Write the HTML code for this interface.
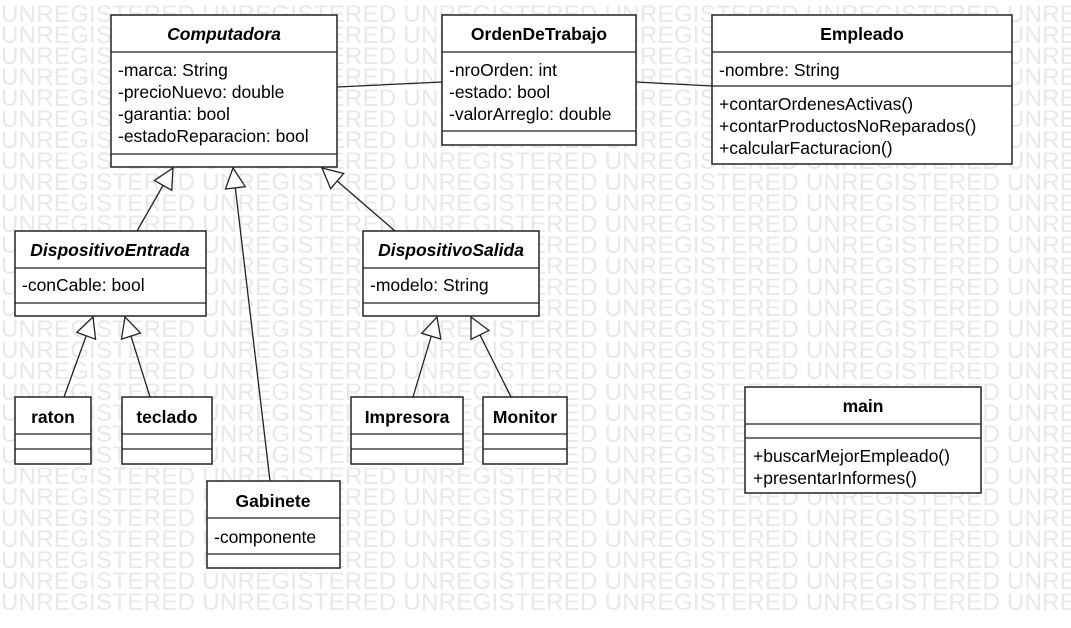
<!DOCTYPE html><html><head><meta charset="utf-8"><style>
body{margin:0;background:#fff;width:1071px;height:628px;overflow:hidden}
svg{display:block}
text{font-family:"Liberation Sans",sans-serif;font-size:17.5px;fill:#000}
text.wm{font-size:24px;fill:#e8e8e8}
.b{font-weight:bold}.i{font-style:italic;font-weight:bold}
rect.c{fill:#fff;stroke:#222;stroke-width:1.5}
line{stroke:#222;stroke-width:1.3}
</style></head><body>
<svg width="1071" height="628" xmlns="http://www.w3.org/2000/svg">
<defs><marker id="t" markerWidth="24" markerHeight="24" refX="21" refY="11" orient="auto" markerUnits="userSpaceOnUse"><path d="M1,1 L21,11 L1,21 Z" fill="#fff" stroke="#222" stroke-width="1.3"/></marker></defs>
<g>
<text class="wm" x="1" y="22" textLength="1200">UNREGISTERED UNREGISTERED UNREGISTERED UNREGISTERED UNREGISTERED UNREGISTERED </text>
<text class="wm" x="1" y="43" textLength="1200">UNREGISTERED UNREGISTERED UNREGISTERED UNREGISTERED UNREGISTERED UNREGISTERED </text>
<text class="wm" x="1" y="64" textLength="1200">UNREGISTERED UNREGISTERED UNREGISTERED UNREGISTERED UNREGISTERED UNREGISTERED </text>
<text class="wm" x="1" y="85" textLength="1200">UNREGISTERED UNREGISTERED UNREGISTERED UNREGISTERED UNREGISTERED UNREGISTERED </text>
<text class="wm" x="1" y="106" textLength="1200">UNREGISTERED UNREGISTERED UNREGISTERED UNREGISTERED UNREGISTERED UNREGISTERED </text>
<text class="wm" x="1" y="127" textLength="1200">UNREGISTERED UNREGISTERED UNREGISTERED UNREGISTERED UNREGISTERED UNREGISTERED </text>
<text class="wm" x="1" y="148" textLength="1200">UNREGISTERED UNREGISTERED UNREGISTERED UNREGISTERED UNREGISTERED UNREGISTERED </text>
<text class="wm" x="1" y="169" textLength="1200">UNREGISTERED UNREGISTERED UNREGISTERED UNREGISTERED UNREGISTERED UNREGISTERED </text>
<text class="wm" x="1" y="190" textLength="1200">UNREGISTERED UNREGISTERED UNREGISTERED UNREGISTERED UNREGISTERED UNREGISTERED </text>
<text class="wm" x="1" y="211" textLength="1200">UNREGISTERED UNREGISTERED UNREGISTERED UNREGISTERED UNREGISTERED UNREGISTERED </text>
<text class="wm" x="1" y="232" textLength="1200">UNREGISTERED UNREGISTERED UNREGISTERED UNREGISTERED UNREGISTERED UNREGISTERED </text>
<text class="wm" x="1" y="253" textLength="1200">UNREGISTERED UNREGISTERED UNREGISTERED UNREGISTERED UNREGISTERED UNREGISTERED </text>
<text class="wm" x="1" y="274" textLength="1200">UNREGISTERED UNREGISTERED UNREGISTERED UNREGISTERED UNREGISTERED UNREGISTERED </text>
<text class="wm" x="1" y="295" textLength="1200">UNREGISTERED UNREGISTERED UNREGISTERED UNREGISTERED UNREGISTERED UNREGISTERED </text>
<text class="wm" x="1" y="316" textLength="1200">UNREGISTERED UNREGISTERED UNREGISTERED UNREGISTERED UNREGISTERED UNREGISTERED </text>
<text class="wm" x="1" y="337" textLength="1200">UNREGISTERED UNREGISTERED UNREGISTERED UNREGISTERED UNREGISTERED UNREGISTERED </text>
<text class="wm" x="1" y="358" textLength="1200">UNREGISTERED UNREGISTERED UNREGISTERED UNREGISTERED UNREGISTERED UNREGISTERED </text>
<text class="wm" x="1" y="379" textLength="1200">UNREGISTERED UNREGISTERED UNREGISTERED UNREGISTERED UNREGISTERED UNREGISTERED </text>
<text class="wm" x="1" y="400" textLength="1200">UNREGISTERED UNREGISTERED UNREGISTERED UNREGISTERED UNREGISTERED UNREGISTERED </text>
<text class="wm" x="1" y="421" textLength="1200">UNREGISTERED UNREGISTERED UNREGISTERED UNREGISTERED UNREGISTERED UNREGISTERED </text>
<text class="wm" x="1" y="442" textLength="1200">UNREGISTERED UNREGISTERED UNREGISTERED UNREGISTERED UNREGISTERED UNREGISTERED </text>
<text class="wm" x="1" y="463" textLength="1200">UNREGISTERED UNREGISTERED UNREGISTERED UNREGISTERED UNREGISTERED UNREGISTERED </text>
<text class="wm" x="1" y="484" textLength="1200">UNREGISTERED UNREGISTERED UNREGISTERED UNREGISTERED UNREGISTERED UNREGISTERED </text>
<text class="wm" x="1" y="505" textLength="1200">UNREGISTERED UNREGISTERED UNREGISTERED UNREGISTERED UNREGISTERED UNREGISTERED </text>
<text class="wm" x="1" y="526" textLength="1200">UNREGISTERED UNREGISTERED UNREGISTERED UNREGISTERED UNREGISTERED UNREGISTERED </text>
<text class="wm" x="1" y="547" textLength="1200">UNREGISTERED UNREGISTERED UNREGISTERED UNREGISTERED UNREGISTERED UNREGISTERED </text>
<text class="wm" x="1" y="568" textLength="1200">UNREGISTERED UNREGISTERED UNREGISTERED UNREGISTERED UNREGISTERED UNREGISTERED </text>
<text class="wm" x="1" y="589" textLength="1200">UNREGISTERED UNREGISTERED UNREGISTERED UNREGISTERED UNREGISTERED UNREGISTERED </text>
<text class="wm" x="1" y="610" textLength="1200">UNREGISTERED UNREGISTERED UNREGISTERED UNREGISTERED UNREGISTERED UNREGISTERED </text>
</g>
<line x1="337" y1="87" x2="442" y2="82"/>
<line x1="636" y1="82" x2="712" y2="86"/>
<line x1="137" y1="231" x2="173" y2="168" marker-end="url(#t)"/>
<line x1="270" y1="481" x2="233" y2="168" marker-end="url(#t)"/>
<line x1="395" y1="231" x2="322" y2="168" marker-end="url(#t)"/>
<line x1="64" y1="397" x2="93" y2="317" marker-end="url(#t)"/>
<line x1="150" y1="397" x2="125" y2="317" marker-end="url(#t)"/>
<line x1="413" y1="397" x2="437" y2="317" marker-end="url(#t)"/>
<line x1="511" y1="397" x2="471" y2="317" marker-end="url(#t)"/>
<rect class="c" x="111" y="15" width="226" height="152"/>
<line x1="111" y1="52" x2="337" y2="52"/><line x1="111" y1="154" x2="337" y2="154"/>
<text class="i" x="224" y="40" text-anchor="middle">Computadora</text>
<text x="118" y="76">-marca: String</text><text x="118" y="98">-precioNuevo: double</text>
<text x="118" y="120">-garantia: bool</text><text x="118" y="142">-estadoReparacion: bool</text>
<rect class="c" x="442" y="15" width="194" height="130"/>
<line x1="442" y1="52" x2="636" y2="52"/><line x1="442" y1="131" x2="636" y2="131"/>
<text class="b" x="539" y="40" text-anchor="middle">OrdenDeTrabajo</text>
<text x="449" y="76">-nroOrden: int</text><text x="449" y="98">-estado: bool</text><text x="449" y="120">-valorArreglo: double</text>
<rect class="c" x="712" y="15" width="300" height="149"/>
<line x1="712" y1="52" x2="1012" y2="52"/><line x1="712" y1="86" x2="1012" y2="86"/>
<text class="b" x="862" y="40" text-anchor="middle">Empleado</text>
<text x="719" y="76">-nombre: String</text>
<text x="719" y="110">+contarOrdenesActivas()</text><text x="719" y="132">+contarProductosNoReparados()</text><text x="719" y="154">+calcularFacturacion()</text>
<rect class="c" x="15" y="231" width="191" height="85"/>
<line x1="15" y1="268" x2="206" y2="268"/><line x1="15" y1="303" x2="206" y2="303"/>
<text class="i" x="110" y="256" text-anchor="middle">DispositivoEntrada</text>
<text x="22" y="291">-conCable: bool</text>
<rect class="c" x="363" y="231" width="176" height="85"/>
<line x1="363" y1="268" x2="539" y2="268"/><line x1="363" y1="303" x2="539" y2="303"/>
<text class="i" x="451" y="256" text-anchor="middle">DispositivoSalida</text>
<text x="370" y="291">-modelo: String</text>
<rect class="c" x="15" y="397" width="76" height="67"/>
<line x1="15" y1="434" x2="91" y2="434"/><line x1="15" y1="449" x2="91" y2="449"/>
<text class="b" x="53" y="423" text-anchor="middle">raton</text>
<rect class="c" x="122" y="397" width="90" height="67"/>
<line x1="122" y1="434" x2="212" y2="434"/><line x1="122" y1="449" x2="212" y2="449"/>
<text class="b" x="167" y="423" text-anchor="middle">teclado</text>
<rect class="c" x="351" y="397" width="112" height="67"/>
<line x1="351" y1="434" x2="463" y2="434"/><line x1="351" y1="449" x2="463" y2="449"/>
<text class="b" x="407" y="423" text-anchor="middle">Impresora</text>
<rect class="c" x="483" y="397" width="84" height="67"/>
<line x1="483" y1="434" x2="567" y2="434"/><line x1="483" y1="449" x2="567" y2="449"/>
<text class="b" x="525" y="423" text-anchor="middle">Monitor</text>
<rect class="c" x="745" y="387" width="236" height="106"/>
<line x1="745" y1="424" x2="981" y2="424"/><line x1="745" y1="438" x2="981" y2="438"/>
<text class="b" x="863" y="412" text-anchor="middle">main</text>
<text x="753" y="462">+buscarMejorEmpleado()</text><text x="753" y="484">+presentarInformes()</text>
<rect class="c" x="207" y="481" width="133" height="87"/>
<line x1="207" y1="518" x2="340" y2="518"/><line x1="207" y1="554" x2="340" y2="554"/>
<text class="b" x="273" y="507" text-anchor="middle">Gabinete</text>
<text x="214" y="543">-componente</text>
</svg></body></html>
